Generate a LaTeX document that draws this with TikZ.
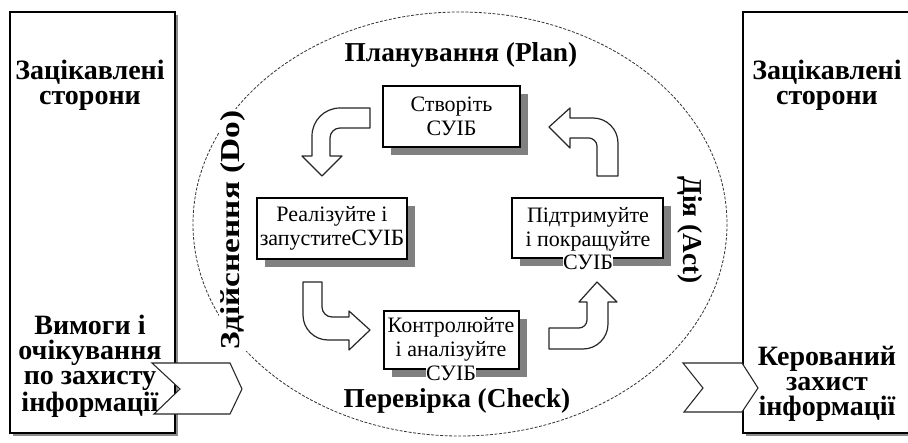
\documentclass[tikz,border=0pt]{standalone}
\usepackage{fontspec}
\setmainfont{Liberation Serif}
\usetikzlibrary{shadows}
\begin{document}
\begin{tikzpicture}[x=0.75pt,y=-0.75pt,
  panel/.style={draw=black, line width=0.8pt, fill=white},
  panelshade/.style={fill=black!45},
  stepbox/.style={draw=black, line width=0.8pt, fill=white, inner sep=0pt,
    drop shadow={shadow xshift=6pt, shadow yshift=-6pt, fill=black!50, opacity=1}},
  boxtext/.style={font=\fontsize{16.5}{18}\selectfont, align=center, inner sep=1pt},
  boxtail/.style={boxtext, fill=white, inner sep=0pt},
  phase/.style={font=\bfseries\fontsize{20.5}{19}\selectfont, align=center, inner sep=1pt},
  party/.style={font=\bfseries\fontsize{21}{19}\selectfont, align=center, inner sep=1pt},
  blockarrow/.style={draw=black!85, line width=0.9pt, fill=white, line join=round},
  chevron/.style={draw=black!85, line width=0.8pt, fill=white, line join=miter},
  cycleline/.style={draw=black!80, line width=0.6pt, dash pattern=on 2.2pt off 1.2pt}
]
\clip (0,0) rectangle (908,443);
\fill[white] (0,0) rectangle (908,443);

% outer panels for the interested parties
\fill[panelshade] (13,15) rectangle (178,436);
\draw[panel] (10,12) rectangle (175,433);
\fill[panelshade] (746,15) rectangle (920,436);
\draw[panel] (743,12) rectangle (918,433);

% PDCA cycle outline
\draw[cycleline] (460,224) ellipse [x radius=267, y radius=212];

% step boxes
\node[stepbox, minimum width=102.75pt, minimum height=45.75pt] (plan) at (451.5,116.5) {};
\node[stepbox, minimum width=112.5pt, minimum height=45.75pt] (do) at (332,228.5) {};
\node[stepbox, minimum width=101.25pt, minimum height=43.5pt] (check) at (451.5,340) {};
\node[stepbox, minimum width=113.25pt, minimum height=45pt] (act) at (587.5,228) {};

\node[boxtext] (plantext) at (plan.center) {Створіть\\СУІБ};
\node[boxtext] (dotext) at (do.center) {Реалізуйте і\\запустите{\fontsize{17.5}{18}\selectfont СУІБ}};
\node[boxtext] (checktext) at (451,339) {Контролюйте\\і аналізуйте};
\node[boxtail] (checktail) at (451,373) {СУІБ};
\node[boxtext] (acttext) at (588,229) {Підтримуйте\\і покращуйте};
\node[boxtail] (acttail) at (588,262) {СУІБ};

% curved block arrows between the steps
\draw[blockarrow] (370,108) -- (340,108) .. controls (324.5,108) and (312,120.5) .. (312,136)
  -- (312,156) -- (302,156) -- (322,176) -- (342,156) -- (330,156) -- (330,138)
  .. controls (330,132.5) and (334.5,128) .. (340,128) -- (370,128) -- cycle;
\draw[blockarrow] (303,282) -- (303,315) .. controls (303,328.8) and (314.2,340) .. (328,340)
  -- (349,340) -- (349,350) -- (370,330) -- (349,311) -- (349,317) -- (332,317)
  .. controls (326.5,317) and (322,312.5) .. (322,307) -- (322,282) -- cycle;
\draw[blockarrow] (549,328) -- (579,328) .. controls (583.4,328) and (587,324.4) .. (587,320)
  -- (587,302) -- (579,302) -- (597,282) -- (617,302) -- (608,302) -- (608,324)
  .. controls (608,337.8) and (596.8,349) .. (583,349) -- (549,349) -- cycle;
\draw[blockarrow] (597,176) -- (597,146) .. controls (597,141.6) and (592.6,138) .. (589,138)
  -- (570,138) -- (570,148) -- (549,127) -- (570,108) -- (570,118) -- (593,118)
  .. controls (606.8,118) and (618,129.2) .. (618,143) -- (618,176) -- cycle;

% phase labels
\node[phase] (planlabel) at (461,55) {Планування (Plan)};
\node[phase] (checklabel) at (457,401) {Перевірка (Check)};
\node[phase, fill=white, rotate=90] (dolabel) at (233,230) {\scalebox{1.22}[1]{Здійснення (Do)}};
\node[phase, rotate=-90] (actlabel) at (690,230) {Дія (Act)};

% interested parties: input and output
\node[party] (inparty) at (90,85) {Зацікавлені\\сторони};
\node[party] (requirements) at (90,366) {Вимоги і\\очікування\\по захисту\\інформації};
\node[party] (outparty) at (827,85) {Зацікавлені\\сторони};
\node[party] (managed) at (827,384) {Керований\\захист\\інформації};

\draw[chevron] (152,363) -- (230,363) -- (242,389) -- (230,414) -- (154,414) -- (180,389) -- cycle;
\draw[chevron] (683,363) -- (742,363) -- (758,388) -- (742,412) -- (684,412) -- (703,388) -- cycle;
\end{tikzpicture}
\end{document}
